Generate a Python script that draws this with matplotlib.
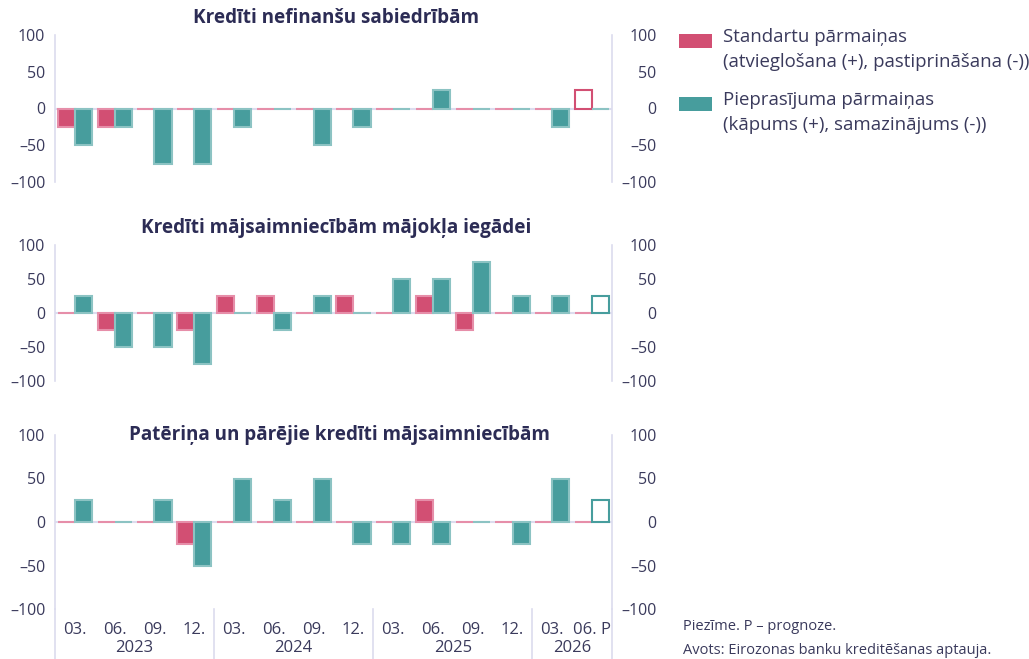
import matplotlib
matplotlib.use("Agg")
from matplotlib import pyplot as plt
from matplotlib.patches import Rectangle
import numpy as np

plt.rcParams["font.family"] = ["Open Sans", "DejaVu Sans"]

# Quarters: 2023 Q1 .. 2026 Q2 (last one is the forecast "P")
MONTHS = ["03.", "06.", "09.", "12.", "03.", "06.", "09.", "12.",
          "03.", "06.", "09.", "12.", "03.", "06. P"]
YEARS = ["2023", "2024", "2025", "2026"]
YEAR_SPANS = [(0, 3), (4, 7), (8, 11), (12, 13)]

TITLES = [
    "Kredīti nefinanšu sabiedrībām",
    "Kredīti mājsaimniecībām mājokļa iegādei",
    "Patēriņa un pārējie kredīti mājsaimniecībām",
]

# standards change (easing +, tightening -)
STANDARDS = [
    [-25, -25, 0, 0, 0, 0, 0, 0, 0, 0, 0, 0, 0, 25],
    [0, -25, 0, -25, 25, 25, 0, 25, 0, 25, -25, 0, 0, 0],
    [0, 0, 0, -25, 0, 0, 0, 0, 0, 25, 0, 0, 0, 0],
]
# demand change (increase +, decrease -)
DEMAND = [
    [-50, -25, -75, -75, -25, 0, -50, -25, 0, 25, 0, 0, -25, 0],
    [25, -50, -50, -75, 0, -25, 25, 0, 50, 50, 75, 25, 25, 25],
    [25, 0, 25, -50, 50, 25, 50, -25, -25, -25, 0, -25, 50, 25],
]

YTICKS = [100, 50, 0, -50, -100]
YTICK_LABELS = ["100", "50", "0", "–50", "–100"]

LEGEND_LABELS = [
    "Standartu pārmaiņas\n(atvieglošana (+), pastiprināšana (-))",
    "Pieprasījuma pārmaiņas\n(kāpums (+), samazinājums (-))",
]

PINK = "#d24f73"
PINK_EDGE = "#e68ea9"
TEAL = "#479d9d"
TEAL_EDGE = "#8cc3c3"
GRID = "#dcdcee"
TEXT = "#3a3a5c"
TITLE = "#2c2c55"

W, H = 1029, 659
fig = plt.figure(figsize=(W / 100, H / 100), dpi=100)

# [top px, bottom px] of each panel
PANELS = [(35, 182), (245, 381), (435, 609)]
LEFT, RIGHT = 55, 612

x = np.arange(len(MONTHS))
bw = 0.43

for i, (top, bottom) in enumerate(PANELS):
    ax = fig.add_axes([LEFT / W, 1 - bottom / H, (RIGHT - LEFT) / W, (bottom - top) / H])
    ax.set_xlim(-0.5, len(MONTHS) - 0.5)
    ax.set_ylim(-100, 100)
    ax.axhline(0, color=GRID, lw=1.5, zorder=1)

    # last quarter is a forecast: hollow bar
    fc_p = [PINK] * (len(x) - 1) + ["white"]
    fc_t = [TEAL] * (len(x) - 1) + ["white"]
    ec_p = [PINK_EDGE] * (len(x) - 1) + [PINK if STANDARDS[i][-1] != 0 else PINK_EDGE]
    ec_t = [TEAL_EDGE] * (len(x) - 1) + [TEAL if DEMAND[i][-1] != 0 else TEAL_EDGE]
    ax.bar(x - bw / 2, STANDARDS[i], bw, color=fc_p, edgecolor=ec_p, lw=1.5, zorder=2)
    ax.bar(x + bw / 2, DEMAND[i], bw, color=fc_t, edgecolor=ec_t, lw=1.5, zorder=2)

    for s in ["top", "bottom", "right"]:
        ax.spines[s].set_visible(False)
    ax.spines["left"].set_color(GRID)
    ax.spines["left"].set_linewidth(1.2)
    ax.set_yticks(YTICKS, YTICK_LABELS)
    ax.tick_params(axis="y", length=0, pad=7, labelsize=11.5, labelcolor=TEXT)

    axr = ax.twinx()
    axr.set_ylim(-100, 100)
    for s in ["top", "bottom", "left"]:
        axr.spines[s].set_visible(False)
    axr.spines["right"].set_color(GRID)
    axr.spines["right"].set_linewidth(1.2)
    axr.set_yticks(YTICKS, YTICK_LABELS)
    axr.tick_params(axis="y", length=0, pad=32, labelsize=11.5, labelcolor=TEXT)
    for lab in axr.get_yticklabels():
        lab.set_horizontalalignment("right")

    if i < 2:
        ax.set_xticks([])
        ax.text(0.505, 1.0 + 17 / (bottom - top), TITLES[i], transform=ax.transAxes,
                ha="center", va="center", fontsize=13.6, fontweight="bold", color=TITLE)
    else:
        ax.text(0.51, 1.0, TITLES[i], transform=ax.transAxes, ha="center",
                va="center", fontsize=13.6, fontweight="bold", color=TITLE)
        ax.set_xticks(x, MONTHS)
        ax.tick_params(axis="x", length=0, pad=9, labelsize=12, labelcolor=TEXT)
        trans = ax.get_xaxis_transform()
        for yr, (a, b) in zip(YEARS, YEAR_SPANS):
            ax.text((a + b) / 2, -0.225, yr, transform=trans, ha="center",
                    va="center", fontsize=12, color=TEXT)
        for edge in [-0.5, 3.5, 7.5, 11.5, 13.5]:
            ax.plot([edge, edge], [0, -0.3], transform=trans, color=GRID,
                    lw=1.2, clip_on=False)

# legend: colour swatch next to the first line of each two-line label
for (ytop, color, label) in [(34, PINK, LEGEND_LABELS[0]), (97, TEAL, LEGEND_LABELS[1])]:
    fig.add_artist(Rectangle((679 / W, 1 - (ytop + 14) / H), 33 / W, 14 / H,
                             transform=fig.transFigure, facecolor=color,
                             edgecolor="none"))
    fig.text(723 / W, 1 - (ytop - 6) / H, label, fontsize=13.4, color=TEXT,
             va="top", linespacing=1.5)

fig.text(683 / W, 1 - 627 / H, "Piezīme. P – prognoze.", fontsize=10.5,
         color=TEXT, va="center")
fig.text(683 / W, 1 - 651 / H, "Avots: Eirozonas banku kreditēšanas aptauja.",
         fontsize=10.5, color=TEXT, va="center")

plt.savefig("out.png", dpi=100)
